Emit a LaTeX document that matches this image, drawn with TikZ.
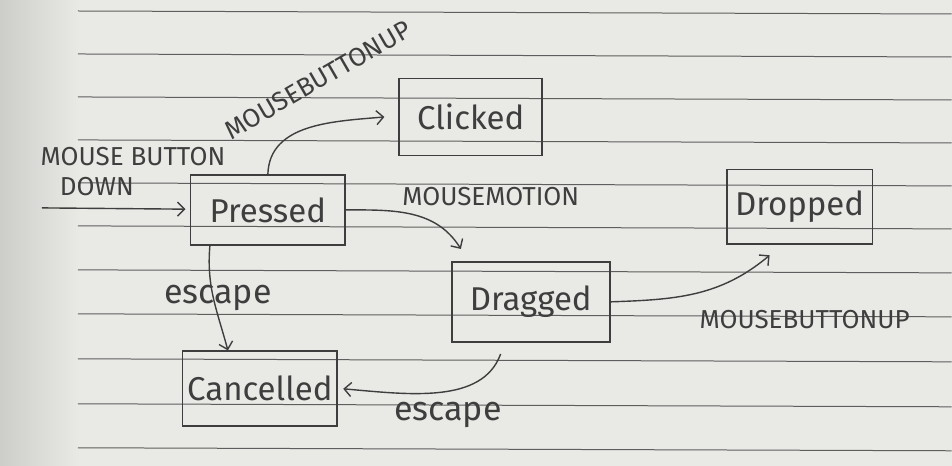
\documentclass[tikz,border=0pt]{standalone}
\usepackage{fontspec}
\setmainfont{Fira Sans}
\usetikzlibrary{arrows.meta}
\definecolor{pencil}{HTML}{3E3E3E}
\definecolor{paper}{HTML}{E9E9E6}
\definecolor{ruling}{HTML}{5E5E5E}

\begin{document}
\begin{tikzpicture}[
    x=1pt, y=1pt,
    state/.style={draw=pencil, line width=1.8pt, text=pencil, inner sep=0pt,
        font=\fontsize{33}{35}\selectfont},
    edge/.style={draw=pencil, line width=1.4pt,
        -{Straight Barb[length=7pt,width=14pt,line width=1.4pt]}},
    edge label/.style={text=pencil, inner sep=0pt, font=\fontsize{26}{28}\selectfont},
    esc label/.style={text=pencil, inner sep=0pt, font=\fontsize{34}{36}\selectfont}
]
    % paper and ruling
    \fill[paper] (0,0) rectangle (952,-466);
    \shade[left color=paper!88!black, right color=paper] (0,0) rectangle (80,-466);
    \foreach \y in {12,55,98,141,184,227,271,315,360,405,449}
        \draw[ruling, line width=1pt] (78,-\y+1) -- (952,-\y-2);
    \useasboundingbox (0,0) rectangle (952,-466);

    % states
    \node[state, minimum width=155pt, minimum height=70pt] (pressed) at (268,-210) {Pressed};
    \node[state, minimum width=143pt, minimum height=77pt] (clicked) at (471,-117) {Clicked};
    \node[state, minimum width=158pt, minimum height=80pt] (dragged) at (531,-302) {Dragged};
    \node[state, minimum width=146pt, minimum height=75pt] (dropped) at (800,-207) {Dropped};
    \node[state, minimum width=155pt, minimum height=75pt] (cancelled) at (260,-389) {Cancelled};

    \coordinate (start) at (42,-208);

    % transitions
    \draw[edge, shorten >=4pt] (start) -- (pressed);
    \draw[edge] (pressed.north) to[out=88,in=185] ([xshift=-14pt]clicked.west);
    \draw[edge] (pressed.east) to[out=0,in=122] ([xshift=10pt,yshift=12pt]dragged.north west);
    \draw[edge] (dragged.east) to[out=2,in=220] ([xshift=-30pt,yshift=-10pt]dropped.south);
    \draw[edge] ([xshift=-58pt]pressed.south) to[out=-95,in=105] ([xshift=-32pt]cancelled.north);
    \draw[edge, shorten <=12pt] ([xshift=-26pt]dragged.south) to[out=-110,in=-5] ([xshift=5pt]cancelled.east);

    % labels
    \node[edge label] (downlbl) at (133,-157) {MOUSE BUTTON};
    \node[edge label] (downlbl2) at (97,-187) {DOWN};
    \node[edge label, rotate=30] (clicklbl) at (318,-80) {MOUSEBUTTONUP};
    \node[edge label] (motionlbl) at (491,-197) {MOUSEMOTION};
    \node[edge label] (droplbl) at (805,-320) {MOUSEBUTTONUP};
    \node[esc label] (esclbl) at (218,-298) {escape};
    \node[esc label] (esclbl2) at (448,-415) {escape};
\end{tikzpicture}
\end{document}
